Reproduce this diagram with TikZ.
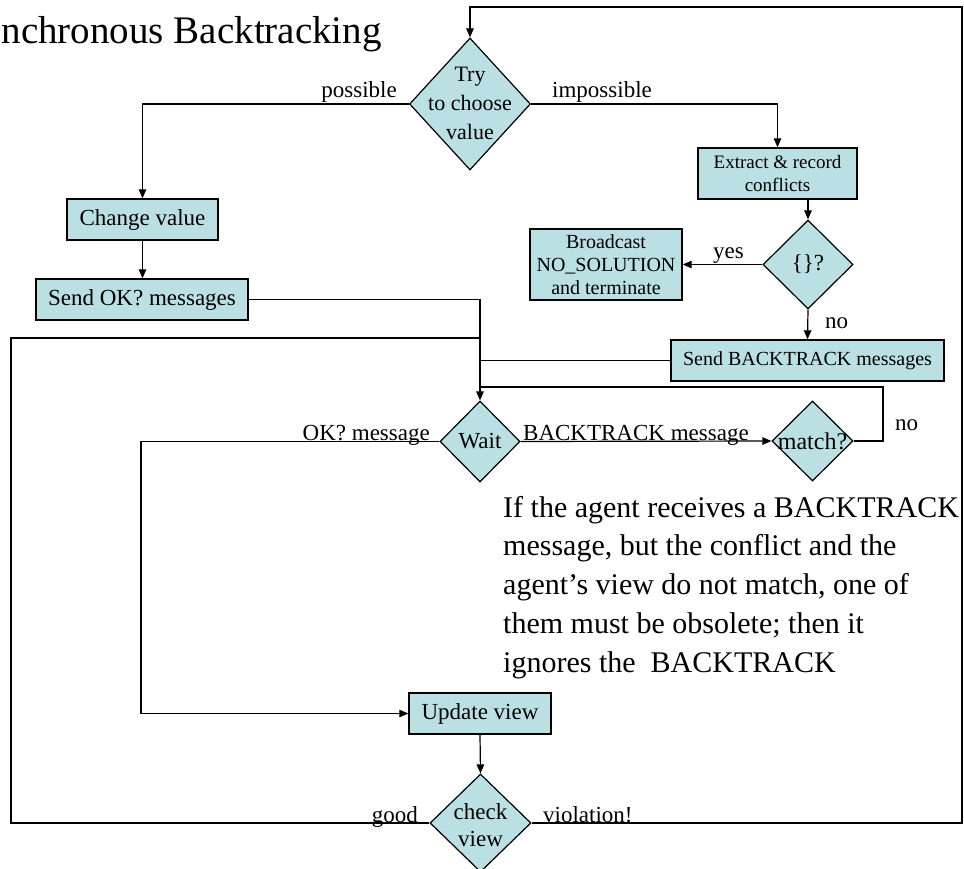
\documentclass[tikz,border=0pt]{standalone}
\usepackage{fontspec}
\setmainfont{Liberation Serif}
\usetikzlibrary{shapes.geometric,arrows.meta}
\definecolor{pfill}{HTML}{BBE0E3}
\newcommand\fsz[2]{\fontsize{#1bp}{#2bp}\selectfont}

\begin{document}
\begin{tikzpicture}[x=1bp,y=-1bp,
  box/.style={draw, line width=1.4bp, fill=pfill, inner sep=0pt, align=center},
  dia/.style={diamond, draw, line width=1.2bp, fill=pfill, inner sep=0pt},
  intext/.style={inner sep=0pt, align=center},
  conn/.style={line width=1.2bp},
  arr/.style={conn, -{Triangle[length=9bp,width=7.5bp]}},
  lbl/.style={inner sep=0pt, font=\fsz{23}{27}},
]
\useasboundingbox (0,0) rectangle (964,869);

% title
\node[anchor=base east, inner sep=0pt, font=\fsz{39}{44}] (title) at (382,43) {nchronous Backtracking};

% decision diamonds
\node[dia, minimum width=121bp, minimum height=132bp] (try) at (470,104) {};
\node[intext, font=\fsz{22}{29}] (try-t) at (470,103) {Try\\to choose\\value};
\node[dia, minimum width=90bp, minimum height=89bp] (empty) at (808,264.5) {};
\node[intext, font=\fsz{23}{27}] (empty-t) at (808,264.5) {\{\}?};
\node[dia, minimum width=80bp, minimum height=81bp] (wait) at (480,441.5) {};
\node[intext, font=\fsz{23}{27}] (wait-t) at (480,441.5) {Wait};
\node[dia, minimum width=81bp, minimum height=80bp] (match) at (812.5,441) {};
\node[intext, font=\fsz{24}{28}] (match-t) at (812.5,441) {match?};
\node[dia, minimum width=101bp, minimum height=98bp] (check) at (480.5,823) {};
\node[intext, font=\fsz{23}{27}] (check-t) at (480.5,825) {check\\view};

% process boxes
\node[box, minimum width=159bp, minimum height=51bp, font=\fsz{19}{23}] (extract) at (777.5,173.5) {Extract \& record\\conflicts};
\node[box, minimum width=152bp, minimum height=71bp, font=\fsz{20}{23}] (broadcast) at (606,264.5) {Broadcast\\NO\_SOLUTION\\and terminate};
\node[box, minimum width=273bp, minimum height=41bp, font=\fsz{20}{24}] (sendbt) at (807.5,360.5) {Send BACKTRACK messages};
\node[box, minimum width=151bp, minimum height=41bp, font=\fsz{23}{27}] (change) at (142.5,219.5) {Change value};
\node[box, minimum width=212bp, minimum height=41bp, font=\fsz{23}{27}] (sendok) at (142,299.5) {Send OK? messages};
\node[box, minimum width=142bp, minimum height=41bp, font=\fsz{23}{27}] (update) at (480,713.5) {Update view};

% explanatory note (base anchor sits on the last line)
\node[anchor=base west, inner sep=0pt, align=left, font=\fsz{30}{38.75}] (note) at (503,672)
  {If the agent receives a BACKTRACK\\message, but the conflict and the\\agent’s view do not match, one of\\them must be obsolete; then it\\ignores the\ \ BACKTRACK};

% routing points
\coordinate (rtop) at (962,7);
\coordinate (rbot) at (962,823);
\coordinate (ltop) at (11,338);
\coordinate (lbot) at (11,823);
\coordinate (okc) at (141,441.5);
\coordinate (mloop) at (883,387);

% connectors
\draw[arr] (check.east) -- (rbot) -- (rtop) -| (try.north);
\draw[arr] (try.west) -| (change.north);
\draw[arr] (try.east) -| (extract.north);
\draw[arr] (extract.south -| empty.north) -- (empty.north);
\draw[arr] (empty.west) -- (broadcast.east);
\draw[arr] (empty.south) -- (sendbt.north);
\draw[arr] (change.south) -- (change.south |- sendok.north);
\draw[arr] (sendok.east) -| (wait.north);
\draw[conn] (sendbt.west) -- (sendbt.west -| wait.north);
\draw[conn] (match.east) -| (mloop) -- (mloop -| wait.north);
\draw[arr] (wait.east) -- (match.west);
\draw[arr] (wait.west) -- (okc) |- (update.west);
\draw[arr] (update.south) -- (check.north);
\draw[conn] (check.west) -- (lbot) -- (ltop) -- (ltop -| wait.north);

% connector labels
\node[lbl, anchor=base east] (l-possible) at (397,97) {possible};
\node[lbl, anchor=base west] (l-impossible) at (552,97) {impossible};
\node[lbl, anchor=base west] (l-yes) at (713,258) {yes};
\node[lbl, anchor=base west] (l-no1) at (825,328) {no};
\node[lbl, anchor=base east] (l-okmsg) at (430,440) {OK? message};
\node[lbl, anchor=base west] (l-btmsg) at (523,440) {BACKTRACK message};
\node[lbl, anchor=base west] (l-no2) at (895,430) {no};
\node[lbl, anchor=base east] (l-good) at (418,822) {good};
\node[lbl, anchor=base west] (l-viol) at (543,822) {violation!};
\end{tikzpicture}
\end{document}
